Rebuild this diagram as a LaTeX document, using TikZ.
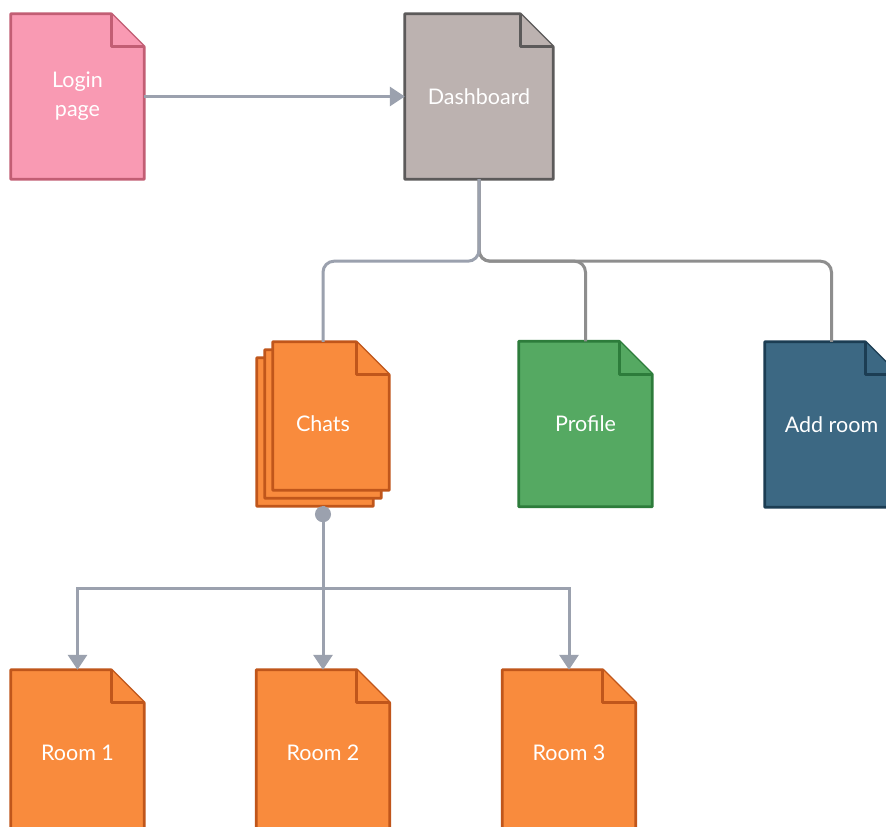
\documentclass[tikz,border=0pt]{standalone}
\usepackage{fontspec}
\setmainfont{Lato}
\usetikzlibrary{arrows.meta,backgrounds,calc}
\definecolor{pinkfill}{HTML}{F99AB3}
\definecolor{pinkdraw}{HTML}{C25E74}
\definecolor{grayfill}{HTML}{BCB2B0}
\definecolor{graydraw}{HTML}{5C5A5A}
\definecolor{orangefill}{HTML}{F98B3D}
\definecolor{orangedraw}{HTML}{C0561B}
\definecolor{greenfill}{HTML}{55A962}
\definecolor{greendraw}{HTML}{2D7C3B}
\definecolor{bluefill}{HTML}{3C6883}
\definecolor{bluedraw}{HTML}{1C3D53}
\definecolor{linec}{HTML}{9BA1AE}
\definecolor{linecb}{HTML}{8E8E8E}
\newlength\foldsz
\setlength\foldsz{33pt}
\newcommand\docat[2]{%
  \draw[#2, line width=2.8pt, line join=round] (#1.north west) -- ([xshift=-\foldsz]#1.north east) -- ([yshift=-\foldsz]#1.north east) -- (#1.south east) -- (#1.south west) -- cycle;
  \draw[#2, line width=2.8pt, line join=round] ([xshift=-\foldsz]#1.north east) -- ([xshift=-\foldsz,yshift=-\foldsz]#1.north east) -- ([yshift=-\foldsz]#1.north east);
}
\tikzset{
  docnode/.style={rectangle, inner sep=0pt, minimum width=133pt, minimum height=165pt, text=white, font=\fontsize{21.5}{29}\selectfont, align=center},
  conn/.style={draw=linec, line width=3pt},
  connb/.style={draw=linecb, line width=3pt},
  tip/.style={-{Triangle[length=15pt,width=19pt]}},
  pinkdoc/.style={fill=pinkfill, draw=pinkdraw},
  graydoc/.style={fill=grayfill, draw=graydraw},
  orangedoc/.style={fill=orangefill, draw=orangedraw},
  greendoc/.style={fill=greenfill, draw=greendraw},
  bluedoc/.style={fill=bluefill, draw=bluedraw}
}
\begin{document}
\begin{tikzpicture}[x=1pt,y=-1pt]
\useasboundingbox (0,0) rectangle (886,827);
% nodes
\node[docnode] (login) at (77.5,96.5) {Login\\page};
\node[docnode, minimum width=148pt] (dash) at (479,96.5) {Dashboard};
\node[docnode, minimum width=116pt, minimum height=148pt] (c3) at (315,432) {};
\node[docnode, minimum width=116pt, minimum height=148pt] (c2) at (323,424) {};
\node[docnode, minimum width=116pt, minimum height=148pt] (c1) at (331,416) {};
\node[docnode, minimum width=132pt, minimum height=164pt] (chats) at (323,424) {Chats};
\node[docnode] (profile) at (585.5,424) {Profile};
\node[docnode] (addroom) at (831.5,424.5) {Add room};
\node[docnode] (room1) at (77.5,752.5) {Room 1};
\node[docnode] (room2) at (323,752.5) {Room 2};
\node[docnode] (room3) at (569,752.5) {Room 3};
% document shapes behind the text
\begin{scope}[on background layer]
\fill[white] (0,0) rectangle (886,827);
\docat{login}{pinkdoc}
\docat{dash}{graydoc}
\docat{c3}{orangedoc}
\docat{c2}{orangedoc}
\docat{c1}{orangedoc}
\docat{profile}{greendoc}
\docat{addroom}{bluedoc}
\docat{room1}{orangedoc}
\docat{room2}{orangedoc}
\docat{room3}{orangedoc}
\end{scope}
% connectors
\draw[conn, tip] (login.east) -- (dash.west);
\draw[connb, rounded corners=11pt] (dash.south) -- ++(0,82) -| (addroom.north);
\draw[connb, rounded corners=11pt] (dash.south) -- ++(0,82) -| (profile.north);
\draw[conn, rounded corners=11pt] (dash.south) -- ++(0,82) -| (c1.north -| chats.north);
\draw[conn, tip] (chats.south) -- ++(0,82) -| (room1.north);
\draw[conn, tip] (chats.south) -- ++(0,82) -| (room3.north);
\draw[conn, {Circle[length=16pt]}-{Triangle[length=15pt,width=19pt]}] (chats.south) -- (room2.north);
\end{tikzpicture}
\end{document}
